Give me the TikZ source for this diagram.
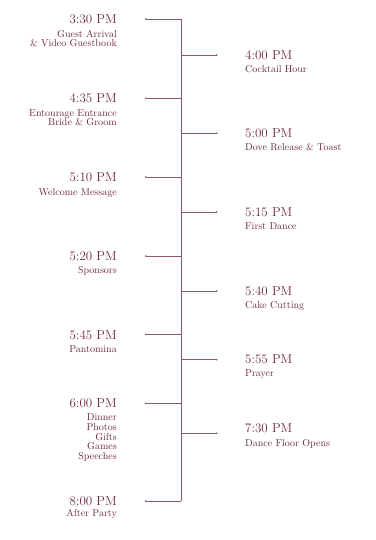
\documentclass[tikz,border=0pt]{standalone}
\definecolor{plum}{RGB}{108,38,70}
\definecolor{plumline}{RGB}{140,88,112}
\begin{document}
\begin{tikzpicture}[x=1pt,y=-1pt,
  timetext/.style={text=plum, inner sep=0pt, font=\fontsize{13}{15}\selectfont},
  subtext/.style={text=plum, inner sep=0pt, font=\fontsize{10}{9.6}\selectfont},
  leftnode/.style={anchor=base east, align=right},
  rightnode/.style={anchor=base west, align=left},
  tickline/.style={draw=plumline, line width=0.5pt},
  tickdot/.style={fill=plumline}
]
\useasboundingbox (0,0) rectangle (375,540);

% ---------- left entries (multi-line nodes: base = last line) ----------
\node[timetext,leftnode] (t330) at (117,24) {3:30 PM};
\node[subtext,leftnode] (s330) at (117,47) {Guest Arrival\\\& Video Guestbook};
\node[timetext,leftnode] (t435) at (117,102.7) {4:35 PM};
\node[subtext,leftnode] (s435) at (117,125.7) {Entourage Entrance\\Bride \& Groom};
\node[timetext,leftnode] (t510) at (117,181.3) {5:10 PM};
\node[subtext,leftnode] (s510) at (117,195) {Welcome Message};
\node[timetext,leftnode] (t520) at (117,260) {5:20 PM};
\node[subtext,leftnode] (s520) at (117,273.3) {Sponsors};
\node[timetext,leftnode] (t545) at (117,339) {5:45 PM};
\node[subtext,leftnode] (s545) at (117,352.3) {Pantomina};
\node[timetext,leftnode] (t600) at (117,407.3) {6:00 PM};
\node[subtext,leftnode] (s600) at (117,459.3) {Dinner\\Photos\\Gifts\\Games\\Speeches};
\node[timetext,leftnode] (t800) at (117,505.3) {8:00 PM};
\node[subtext,leftnode] (s800) at (117,516.7) {After Party};

% ---------- right entries ----------
\node[timetext,rightnode] (t400) at (245,59.3) {4:00 PM};
\node[subtext,rightnode] (s400) at (245,72.7) {Cocktail Hour};
\node[timetext,rightnode] (t500) at (245,138) {5:00 PM};
\node[subtext,rightnode] (s500) at (245,150.5) {Dove Release \& Toast};
\node[timetext,rightnode] (t515) at (245,216) {5:15 PM};
\node[subtext,rightnode] (s515) at (245,229.3) {First Dance};
\node[timetext,rightnode] (t540) at (245,295) {5:40 PM};
\node[subtext,rightnode] (s540) at (245,308.3) {Cake Cutting};
\node[timetext,rightnode] (t555) at (245,363.3) {5:55 PM};
\node[subtext,rightnode] (s555) at (245,376.7) {Prayer};
\node[timetext,rightnode] (t730) at (245,432.3) {7:30 PM};
\node[subtext,rightnode] (s730) at (245,446) {Dance Floor Opens};

% ---------- connectors ----------
\foreach \n/\y in {330/19, 435/98.3, 510/177, 520/256, 545/334.3, 600/403.3, 800/501}{
  \coordinate (j\n) at (181.3,\y);
  \coordinate (e\n) at (145.7,\y);
  \draw[tickline] (j\n) -- (e\n);
  \fill[tickdot] (e\n) circle (0.9);
}
\foreach \n/\y in {400/55, 500/133.3, 515/212, 540/291, 555/359.7, 730/433.3}{
  \coordinate (j\n) at (181.3,\y);
  \coordinate (e\n) at (216.7,\y);
  \draw[tickline] (j\n) -- (e\n);
  \fill[tickdot] (e\n) circle (0.9);
}
\draw[tickline] (j330) -- (j800);
\end{tikzpicture}
\end{document}
